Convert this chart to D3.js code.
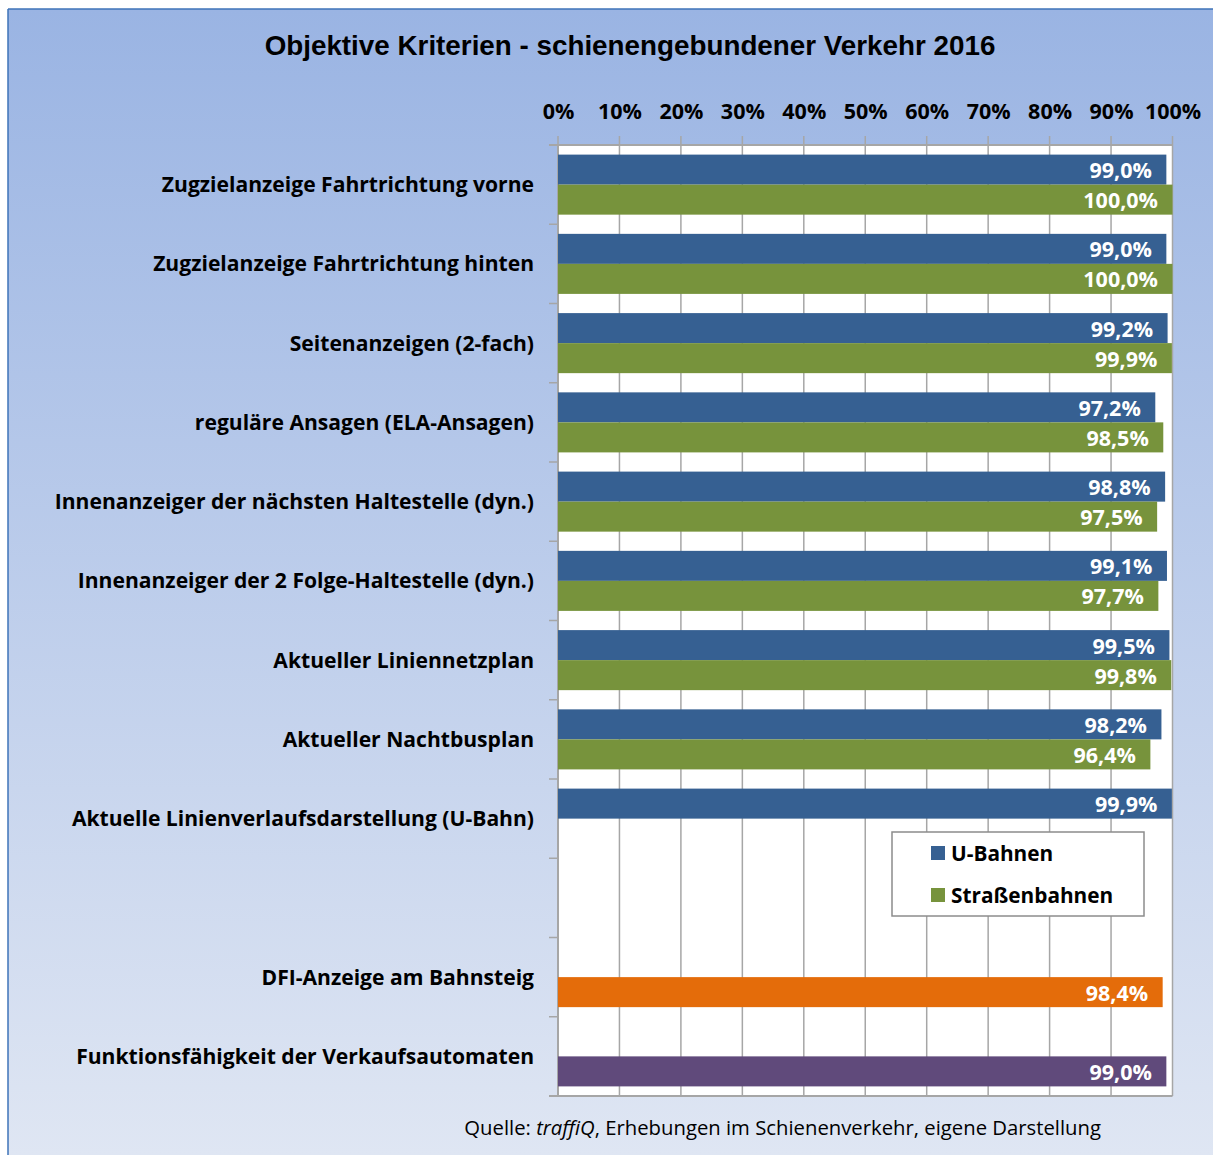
<!DOCTYPE html>
<html><head><meta charset="utf-8">
<script src="https://cdn.jsdelivr.net/npm/d3@7"></script>
<style>body{margin:0;background:#fff;} svg{display:block;}</style>
</head><body>
<script>
const categories = [
  "Zugzielanzeige Fahrtrichtung vorne",
  "Zugzielanzeige Fahrtrichtung hinten",
  "Seitenanzeigen (2-fach)",
  "reguläre Ansagen (ELA-Ansagen)",
  "Innenanzeiger der nächsten Haltestelle (dyn.)",
  "Innenanzeiger der 2 Folge-Haltestelle (dyn.)",
  "Aktueller Liniennetzplan",
  "Aktueller Nachtbusplan",
  "Aktuelle Linienverlaufsdarstellung (U-Bahn)",
  "",
  "DFI-Anzeige am Bahnsteig",
  "Funktionsfähigkeit der Verkaufsautomaten"
];
const uBahnen = [99.0, 99.0, 99.2, 97.2, 98.8, 99.1, 99.5, 98.2, 99.9, null, null, null];
const strassenbahnen = [100.0, 100.0, 99.9, 98.5, 97.5, 97.7, 99.8, 96.4, null, null, null, null];
const dfi = [null, null, null, null, null, null, null, null, null, null, 98.4, null];
const automaten = [null, null, null, null, null, null, null, null, null, null, null, 99.0];
const tickValues = [0,10,20,30,40,50,60,70,80,90,100];
const title = "Objektive Kriterien - schienengebundener Verkehr 2016";
const legendLabels = ["U-Bahnen", "Straßenbahnen"];

const W = 1213, H = 1155;
const svg = d3.select("body").append("svg").attr("width", W).attr("height", H);
const defs = svg.append("defs");
const grad = defs.append("linearGradient").attr("id","bg").attr("x1",0).attr("y1",0).attr("x2",0).attr("y2",1);
grad.append("stop").attr("offset","0%").attr("stop-color","#9AB4E3");
grad.append("stop").attr("offset","100%").attr("stop-color","#DFE6F3");

svg.append("rect").attr("x",8).attr("y",9).attr("width",W-8).attr("height",H-9).attr("fill","url(#bg)");
svg.append("line").attr("x1",8).attr("x2",W).attr("y1",9).attr("y2",9).attr("stroke","#3E73B8").attr("stroke-width",1.5);
svg.append("line").attr("x1",8).attr("x2",8).attr("y1",9).attr("y2",H).attr("stroke","#3E73B8").attr("stroke-width",1.5);

const lblFont = "'Open Sans', sans-serif";

svg.append("text").attr("x",630).attr("y",45).attr("text-anchor","middle").attr("dominant-baseline","central")
  .attr("font-family","'Liberation Sans', Arial, sans-serif").attr("font-weight","bold").attr("font-size",27.8)
  .attr("fill","#000").text(title);

const x0 = 558, x1 = 1172.5, yTop = 145, yBot = 1096;
const x = d3.scaleLinear().domain([0,100]).range([x0, x1]);
const y = d3.scaleBand().domain(d3.range(categories.length)).range([yTop, yBot]).paddingInner(0).paddingOuter(0);
const slot = d3.scaleBand().domain(["a","b"]).range([0, y.bandwidth()]).paddingInner(0).paddingOuter(0.32);

// plot area
svg.append("rect").attr("x",x0).attr("y",yTop).attr("width",x1-x0).attr("height",yBot-yTop).attr("fill","#fff");

// gridlines
svg.append("g").selectAll("line").data(tickValues).join("line")
  .attr("x1",d=>x(d)).attr("x2",d=>x(d)).attr("y1",yTop-9).attr("y2",yBot)
  .attr("stroke","#A6A6A6").attr("stroke-width",1.5);

// top axis
const xAxis = d3.axisTop(x).tickValues(tickValues).tickSize(0).tickFormat(d=>d+"%");
const gx = svg.append("g").attr("transform",`translate(0,${yTop-22})`).call(xAxis);
gx.select(".domain").remove();
gx.selectAll("text").attr("font-family",lblFont).attr("font-weight","bold").attr("font-size",21.5).attr("fill","#000")
  .attr("dy","0.35em").attr("y",0).attr("transform","translate(0,-12)");

// y axis boundary ticks
const bounds = categories.map((c,i)=>y(i)).concat([yBot]);
svg.append("g").selectAll("line").data(bounds).join("line")
  .attr("x1",x0-9).attr("x2",x0).attr("y1",d=>d).attr("y2",d=>d)
  .attr("stroke","#A6A6A6").attr("stroke-width",1.5);
svg.append("line").attr("x1",x0-9).attr("x2",x1).attr("y1",yTop).attr("y2",yTop).attr("stroke","#A6A6A6").attr("stroke-width",2);
svg.append("line").attr("x1",x0-9).attr("x2",x1).attr("y1",yBot).attr("y2",yBot).attr("stroke","#A6A6A6").attr("stroke-width",2);
svg.append("line").attr("x1",x0).attr("x2",x0).attr("y1",yTop).attr("y2",yBot).attr("stroke","#A6A6A6").attr("stroke-width",2);

// category labels
svg.append("g").selectAll("text").data(categories).join("text")
  .attr("x",534).attr("y",(d,i)=>y(i)+y.bandwidth()/2-1).attr("text-anchor","end").attr("dominant-baseline","central")
  .attr("font-family",lblFont).attr("font-weight","bold").attr("font-size",21.1).attr("fill","#000").text(d=>d);

const fmt = v => d3.format(".1f")(v).replace(".", ",") + "%";
const series = [
  {vals:uBahnen, color:"#366092", slot:"a"},
  {vals:strassenbahnen, color:"#77933C", slot:"b"},
  {vals:dfi, color:"#E46C0A", slot:"b"},
  {vals:automaten, color:"#604A7B", slot:"b"}
];
series.forEach(s=>{
  const data = s.vals.map((v,i)=>({v,i})).filter(d=>d.v!=null);
  const g = svg.append("g");
  g.selectAll("rect").data(data).join("rect")
    .attr("x",x(0)).attr("y",d=>y(d.i)+slot(s.slot)).attr("width",d=>x(d.v)-x(0)).attr("height",slot.bandwidth())
    .attr("fill",s.color);
  g.selectAll("text").data(data).join("text")
    .attr("x",d=>x(d.v)-14.5).attr("y",d=>y(d.i)+slot(s.slot)+slot.bandwidth()/2)
    .attr("text-anchor","end").attr("dominant-baseline","central")
    .attr("font-family",lblFont).attr("font-weight","bold").attr("font-size",21.5).attr("fill","#fff")
    .text(d=>fmt(d.v));
});

// legend
const lg = svg.append("g");
lg.append("rect").attr("x",892).attr("y",832).attr("width",252).attr("height",84).attr("fill","#fff").attr("stroke","#8C8C8C").attr("stroke-width",1.5);
[["#366092",legendLabels[0],853],["#77933C",legendLabels[1],895]].forEach(([c,t,yy])=>{
  lg.append("rect").attr("x",931).attr("y",yy-7).attr("width",14).attr("height",14).attr("fill",c);
  lg.append("text").attr("x",951).attr("y",yy).attr("dominant-baseline","central")
    .attr("font-family",lblFont).attr("font-weight","bold").attr("font-size",20.8).attr("fill","#000").text(t);
});

// source
const src = svg.append("text").attr("x",1101).attr("y",1127).attr("text-anchor","end").attr("dominant-baseline","central")
  .attr("font-family",lblFont).attr("font-size",20.3).attr("fill","#000");
src.append("tspan").text("Quelle: ");
src.append("tspan").attr("font-style","italic").text("traffiQ");
src.append("tspan").text(", Erhebungen im Schienenverkehr, eigene Darstellung");
</script>
</body></html>
